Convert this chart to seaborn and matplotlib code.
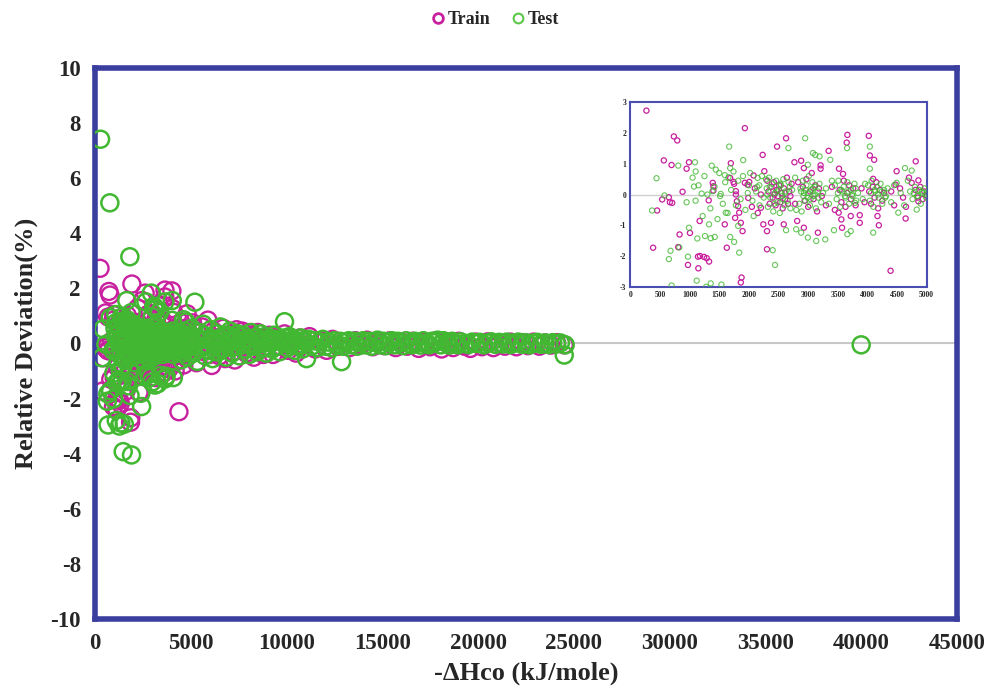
import numpy as np
import pandas as pd
import matplotlib
matplotlib.use("Agg")
import matplotlib.pyplot as plt
import seaborn as sns
from matplotlib.lines import Line2D

# ---------------- data ----------------
train_low_x = [271, 734, 791, 1932, 565, 695, 989, 949,
               537, 650, 667, 706, 881, 452, 384, 808,
               830, 1006, 1169, 972, 1141, 1175, 1243, 1288, 1328, 1147,
               1322, 1401, 1401, 1390, 1695, 1593, 1627, 1876, 1864,
               1751, 1780, 1797, 1819, 1768, 1836, 1864, 1893, 1977, 1989, 2079, 2232,
               2260, 2203, 2203, 2243, 2305, 2305, 2373, 2429, 2475, 2627, 2588,
               2768, 2881, 2927, 3209, 3209, 3345, 2814, 3164, 2927,
               3520, 3661, 3650, 3588, 3514, 3559, 3571, 3718, 3870, 3870,
               4022, 4040, 4113, 4096, 4192, 4169, 4390, 4492, 4475, 4644, 4814, 4746, 4859, 4859, 4997,
               1684, 1740, 1780, 1932, 2006,
               2310, 2330, 2350, 2380, 2400, 2420, 2450, 2470, 2490, 2510, 2530, 2550, 2570, 2590, 2610, 2640, 2660, 2680, 2700, 2720,
               2910, 2940, 2970, 3000, 3030, 3060, 3090, 3120, 3150, 3180, 3230,
               3530, 3560, 3600, 3630, 3660, 3690, 3720, 3760, 3800,
               4030, 4060, 4090, 4120, 4150, 4180, 4210, 4250, 4280,
               4810, 4850, 4890, 4930, 4960,
               2050, 2100, 2150, 2780, 2830, 3300, 3400, 3450, 3900, 3950, 4400, 4450, 4550, 4600, 4700, 4650]
train_low_y = [2.73, 1.89, 1.76, 2.16, 1.11, 0.96, 1.05, 0.84,
               -0.16, -0.09, -0.25, -0.27, 0.09, -0.52, -1.73, -1.71,
               -1.30, -1.25, -0.86, -2.29, -2.02, -2.00, -2.03, -2.07, -2.18, -2.40,
               -0.19, 0.13, 0.27, 0.38, 1.02, -0.97, -1.73, -2.70, -2.86,
               0.35, 0.00, -0.22, -0.38, -0.76, -0.59, -0.92, -1.19, 0.32, -0.11, 0.62, 1.29,
               0.76, 0.00, -0.43, -0.97, -1.19, -1.78, -0.92, 0.00, 1.56, 1.83, -0.97,
               1.05, 1.10, 0.86, 0.95, 0.84, 1.42, -0.86, -1.24, -1.08,
               0.84, 1.94, 1.69, 0.67, -0.59, -0.81, -1.08, -0.70, -0.67, -0.92,
               1.91, 1.27, 1.13, 0.51, -1.00, -0.70, -2.48, 0.76, 0.32, -0.78, 1.08, 0.38, 0.46, -0.22, -0.02,
               0.54, 0.41, 0.11, 0.38, 0.41,
               0.45, 0.10, -0.30, 0.25, -0.10, 0.40, -0.35, 0.15, -0.05, 0.30, -0.25, 0.05, -0.45, 0.20, -0.15, 0.55, -0.30, 0.10, -0.05, 0.35,
               0.25, -0.20, 0.50, -0.40, 0.10, 0.70, -0.15, 0.30, -0.55, 0.20, -0.05,
               0.15, -0.25, 0.45, -0.40, 0.05, 0.30, -0.15, 0.20, -0.35,
               0.10, -0.30, 0.25, -0.10, 0.40, -0.45, 0.15, -0.20, 0.05,
               0.15, -0.10, 0.25, -0.15, 0.10,
               -0.40, 0.20, -0.60, -0.30, 0.40, -0.35, 0.25, -0.50, 0.20, -0.25, 0.10, -0.35, 0.20, -0.10, 0.55, -0.40]

train_high_x = [5100, 5300, 5500, 5700, 5900, 6100, 6300, 6500, 6700, 6900, 7100, 7300, 7500, 7700, 7900,
                8100, 8300, 8500, 8700, 8900, 9100, 9300, 9500, 9700, 9900, 10100, 10300, 10500, 10700, 10900,
                11200, 11500, 11800, 12100, 12400, 12700, 13000, 13300, 13600, 13900, 14200, 14500, 14800,
                15100, 15400, 15700, 16000, 16300, 16600, 16900, 17200, 17500, 17800, 18100, 18400, 18700,
                19000, 19300, 19600, 19900, 20200, 20500, 20800, 21100, 21400, 21700, 22000, 22300, 22600,
                22900, 23200, 23500, 23800, 24100, 24500,
                5200, 5400, 5600, 5800, 6000, 6200, 6400, 6600, 6800, 7000, 7200, 7400, 7600, 7800, 8000,
                8200, 8400, 8600, 8800, 9000]
train_high_y = [0.75, -0.70, 0.40, -0.30, 0.85, -0.80, 0.20, -0.45, 0.55, -0.15, 0.35, -0.60, 0.10, 0.45, -0.35,
                0.25, -0.50, 0.40, -0.20, 0.05, 0.30, -0.40, 0.15, -0.10, 0.35, -0.25, 0.10, -0.35, 0.20, -0.05,
                0.25, -0.20, 0.10, -0.25, 0.15, -0.10, 0.05, -0.15, 0.10, -0.05, 0.12, -0.12, 0.05,
                -0.08, 0.10, -0.15, 0.05, -0.10, 0.08, -0.18, 0.05, -0.12, 0.10, -0.20, 0.02, -0.15,
                0.08, -0.10, -0.18, 0.05, -0.12, 0.06, -0.15, 0.02, -0.10, 0.05, -0.12, 0.03, -0.08,
                0.05, -0.10, 0.02, -0.06, 0.03, -0.05,
                0.10, -0.20, 0.60, 0.05, -0.40, 0.45, -0.10, 0.25, -0.55, 0.05, -0.30, 0.50, -0.15, 0.20, -0.05,
                0.30, -0.25, 0.15, -0.40, 0.20]

test_low_x = [441, 808, 1090, 1102, 1073, 949, 576, 367, 678, 650, 825, 989, 1328, 972, 1119, 1356, 1537,
              1130, 1260, 1356, 1424, 1203, 1384, 1373, 1441, 1514, 1525, 1667, 1684, 1655, 1593, 1904,
              1610, 1684, 1751, 1836, 1819, 2147, 2175, 2288, 2401, 2441, 2667, 2627, 2949, 2994, 3079,
              3119, 3192, 3373, 2797, 2881, 2994, 3136, 3288, 3435, 3655, 3661, 3718, 3791, 4040, 4040,
              4096, 4492, 4520, 4633, 4746, 4831,
              298, 783, 1827, 1480, 1915, 696, 1279,
              2300, 2320, 2340, 2360, 2390, 2410, 2440, 2460, 2480, 2500, 2520, 2540, 2560, 2580, 2600, 2620, 2650, 2670, 2700, 2730,
              2850, 2870, 2890, 2910, 2930, 2950, 2970, 2990, 3010, 3030, 3050, 3070, 3090, 3110, 3130, 3160, 3190, 3220, 3250,
              3450, 3480, 3510, 3540, 3570, 3600, 3630, 3660, 3690, 3720, 3750, 3780, 3810, 3840,
              4010, 4040, 4070, 4100, 4130, 4160, 4190, 4220, 4250, 4280, 4310, 4340,
              4720, 4760, 4800, 4840, 4870, 4900, 4930, 4960, 4990,
              2000, 2060, 2120, 2780, 2800, 3300, 3350, 3400, 3920, 3960, 4400, 4450, 4560, 4620, 4680,
              1050, 1100, 1150, 1220, 1250, 1300, 1350, 1420, 1470, 1500, 1560, 1600, 1640, 1700, 1740,
              1780, 1820, 1860, 1900, 1940, 1980, 2020, 2080, 2140, 2180, 2220, 2250,
              2310, 2350, 2430, 2470, 2530, 2570, 2610, 2690,
              2880, 2920, 2960, 3000, 3040, 3080, 3120, 3170,
              3500, 3560, 3620, 3680, 3740, 3800,
              4060, 4120, 4180, 4240, 4300,
              4780, 4850, 4920, 4980]
test_low_y = [0.53, 0.94, 1.05, 0.75, 0.26, -0.25, -0.03, -0.52, -1.83, -2.10, -1.72, -1.08, -0.97, -2.02, -2.80, -2.89, -2.93,
              -1.43, -1.35, -1.42, -1.38, 0.03, 0.11, 0.94, 0.81, -0.05, 0.02, 1.56, 0.86, 0.56, 0.63, 1.12,
              -0.59, -1.38, -1.54, -1.89, -1.02, 0.54, 0.30, 0.49, -1.81, -2.29, 1.51, -1.16, 1.83, 0.97, 1.35,
              1.29, 1.24, 1.13, -1.13, -1.24, -1.40, -1.51, -1.46, -1.16, 1.51, -1.29, -1.19, -0.27, 1.56, 0.84,
              -1.24, 0.38, -0.59, 0.86, 0.78, -0.49,
              7.42, 5.11, 3.15, -3.93, -4.05, -2.96, -3.00,
              0.20, -0.40, 0.55, -0.10, 0.35, -0.55, 0.05, 0.45, -0.25, 0.15, -0.60, 0.30, -0.05, 0.50, -0.35, 0.10, -0.20, 0.40, -0.45, 0.15,
              -0.30, 0.20, -0.55, 0.45, 0.05, -0.20, 0.30, -0.10, 0.60, -0.35, 0.15, 0.40, -0.05, 0.25, -0.45, 0.10, 0.35, -0.25, 0.05,
              0.30, -0.15, 0.45, -0.40, 0.10, 0.25, -0.10, 0.40, -0.30, 0.15, -0.05, 0.35, -0.20, 0.05,
              0.30, -0.20, 0.45, -0.40, 0.10, 0.25, -0.10, 0.35, -0.30, 0.15, -0.05, 0.20,
              0.10, -0.15, 0.25, -0.05, 0.15, -0.30, 0.05, 0.20, -0.10,
              0.30, -0.20, 0.10, 0.55, -0.50, 0.20, -0.30, 0.45, -0.15, 0.35, -0.25, 0.30, 0.05, -0.35, 0.45,
              0.55, -0.20, 0.30, -0.70, 0.60, 0.00, -0.45, 0.25, -0.80, 0.70, -0.30, 0.40, -0.60, 0.15, 0.75,
              -0.35, 0.45, -0.15, 0.60, -0.50, 0.05, 0.70, -0.70, 0.25, -0.35, 0.60, -0.10,
              0.00, 0.25, -0.30, 0.10, 0.35, -0.15, 0.05, 0.25,
              0.10, -0.05, 0.15, 0.05, -0.15, 0.20, 0.00, -0.10,
              0.05, 0.15, -0.05, 0.10, 0.00, 0.20,
              0.05, 0.15, 0.00, 0.10, -0.10,
              0.05, -0.05, 0.10, 0.00]

test_high_x = [5050, 5150, 5220, 5250, 5350, 5450, 5550, 5650, 5750, 5850, 5950, 6050, 6150, 6250, 6350,
               6450, 6550, 6650, 6750, 6850, 6950, 7050, 7150, 7250, 7350, 7450, 7550, 7650, 7750, 7850,
               7950, 8050, 8150, 8250, 8350, 8450, 8550, 8650, 8750, 8850, 8950, 9050, 9150, 9250, 9350,
               9450, 9550, 9650, 9750, 9900, 9950, 10050, 10150, 10250, 10350, 10450, 10550, 10650, 10750,
               10850, 11050, 11000, 11150, 11300, 11450, 11600, 11750, 11900, 12050, 12200, 12350, 12500,
               12650, 12877, 12800, 12950, 13100, 13250, 13400, 13550, 13700, 13850, 14000, 14150, 14300,
               14450, 14600, 14750, 14900, 15050, 15200, 15350, 15500, 15650, 15800, 15950, 16100, 16250,
               16400, 16550, 16700, 16850, 17000, 17150, 17300, 17450, 17600, 17750, 17900, 18050, 18200,
               18350, 18500, 18650, 18800, 18950, 19100, 19300, 19500, 19700, 19900, 20100, 20300, 20500,
               20700, 20900, 21100, 21300, 21500, 21700, 21900, 22100, 22300, 22500, 22700, 22900, 23100,
               23300, 23500, 23700, 23900, 24100, 24300, 24550, 24500, 40000,
               5100, 5300, 5500, 5700, 5900, 6100, 6300, 6500, 6700, 6900, 7100, 7300, 7500, 7700, 7900,
               8100, 8300, 8500, 8700, 8900, 9100, 9300, 9500, 9700, 10000, 10300, 10600, 10900]
test_high_y = [0.55, -0.35, 1.50, 0.20, -0.65, 0.40, -0.10, 0.70, -0.45, 0.15, -0.25, 0.50, -0.55, 0.05, 0.35,
               -0.30, 0.60, -0.20, 0.25, -0.50, 0.10, 0.45, -0.35, 0.20, -0.10, 0.35, -0.45, 0.05, 0.30, -0.20,
               0.15, -0.40, 0.40, -0.05, 0.20, -0.30, 0.10, 0.35, -0.15, 0.25, -0.35, 0.05, 0.20, -0.20, 0.30,
               -0.10, 0.15, -0.30, 0.05, 0.79, 0.20, -0.15, 0.25, -0.05, 0.15, -0.25, 0.10, -0.10, 0.20,
               -0.20, -0.55, 0.05, 0.15, -0.10, 0.10, -0.15, 0.05, 0.15, -0.10, 0.05, -0.15, 0.10,
               -0.05, -0.66, 0.08, -0.10, 0.05, 0.10, -0.05, 0.08, -0.10, 0.05, 0.10, -0.05, 0.08,
               -0.10, 0.05, 0.12, -0.05, 0.08, -0.08, 0.05, 0.10, -0.05, 0.08, 0.02, -0.08, 0.10,
               0.00, -0.05, 0.08, 0.02, -0.06, 0.10, 0.00, -0.05, 0.08, 0.03, 0.12, -0.05, 0.10,
               0.02, -0.06, 0.08, 0.00, -0.05, 0.06, 0.00, -0.04, 0.05, 0.00, 0.04, -0.05, 0.02,
               0.06, -0.03, 0.04, -0.02, 0.05, -0.04, 0.02, 0.05, -0.03, 0.03, -0.05, 0.02, 0.04,
               -0.03, 0.02, -0.04, 0.03, -0.02, 0.02, -0.05, -0.42, -0.05,
               0.05, 0.15, -0.20, 0.30, -0.05, 0.10, -0.30, 0.20, 0.00, 0.30, -0.15, 0.10, 0.25, -0.05, 0.15,
               0.05, -0.10, 0.20, 0.00, -0.15, 0.10, 0.05, -0.10, 0.15, 0.00, 0.05, -0.05, 0.10]

x_ticks = [0, 5000, 10000, 15000, 20000, 25000, 30000, 35000, 40000, 45000]
y_ticks = [-10, -8, -6, -4, -2, 0, 2, 4, 6, 8, 10]
inset_x_ticks = [0, 500, 1000, 1500, 2000, 2500, 3000, 3500, 4000, 4500, 5000]
inset_y_ticks = [-3, -2, -1, 0, 1, 2, 3]

# ---------------- build tables ----------------
train = pd.DataFrame({"x": train_low_x + train_high_x, "y": train_low_y + train_high_y})
test = pd.DataFrame({"x": test_low_x + test_high_x, "y": test_low_y + test_high_y})

MAG = "#C8209E"
GRN = "#42B832"
FRAME = "#3A3E9E"
SERIF = ["Liberation Serif", "DejaVu Serif"]

sns.set_theme(style="white")
plt.rcParams["font.family"] = SERIF

fig = plt.figure(figsize=(9.88, 6.96), dpi=100)
ax = fig.add_axes([0.096, 0.111, 0.8726, 0.791])

ax.axhline(0, color="#C8C8C8", lw=1.5, zorder=0)
sns.scatterplot(data=train, x="x", y="y", ax=ax, s=150, facecolor="none",
                edgecolor=MAG, linewidth=1.7, zorder=2)
sns.scatterplot(data=test, x="x", y="y", ax=ax, s=150, facecolor="none",
                edgecolor=GRN, linewidth=1.8, zorder=3)

ax.set_xlim(0, 45000)
ax.set_ylim(-10, 10)
ax.set_xticks(x_ticks)
ax.set_yticks(y_ticks)
ax.set_xticklabels([str(t) for t in x_ticks], fontsize=16.5, fontweight="bold")
ax.set_yticklabels([str(t) for t in y_ticks], fontsize=16.5, fontweight="bold")
ax.tick_params(length=0, pad=10)
ax.set_xlabel("-ΔHco (kJ/mole)", fontsize=19, fontweight="bold", labelpad=6)
ax.set_ylabel("Relative Deviation(%)", fontsize=19, fontweight="bold", labelpad=9)
for sp in ax.spines.values():
    sp.set_color(FRAME)
    sp.set_linewidth(4)

# ---------------- inset ----------------
ins = fig.add_axes([0.638, 0.588, 0.300, 0.265])
ins.axhline(0, color="#D0D0D0", lw=1.0, zorder=0)
sns.scatterplot(data=train, x="x", y="y", ax=ins, s=14, facecolor="none",
                edgecolor=MAG, linewidth=0.9, zorder=2)
sns.scatterplot(data=test, x="x", y="y", ax=ins, s=14, facecolor="none",
                edgecolor=GRN, linewidth=0.8, alpha=0.8, zorder=3)
ins.set_xlim(0, 5000)
ins.set_ylim(-3, 3)
ins.set_xticks(inset_x_ticks)
ins.set_yticks(inset_y_ticks)
ins.set_xticklabels([str(t) for t in inset_x_ticks], fontsize=5.5, fontweight="bold")
ins.set_yticklabels([str(t) for t in inset_y_ticks], fontsize=5.5, fontweight="bold")
ins.tick_params(length=0, pad=3)
ins.set_xlabel("")
ins.set_ylabel("")
for sp in ins.spines.values():
    sp.set_color("#4A4EB0")
    sp.set_linewidth(1.5)

# ---------------- legend ----------------
handles = [Line2D([], [], ls="none", marker="o", markersize=7, markerfacecolor="none",
                  markeredgecolor=MAG, markeredgewidth=2, label="Train"),
           Line2D([], [], ls="none", marker="o", markersize=7, markerfacecolor="none",
                  markeredgecolor="#5CC84A", markeredgewidth=1.5, label="Test")]
fig.legend(handles=handles, loc="center", bbox_to_anchor=(0.5, 0.972), ncol=2, frameon=False,
           prop={"family": SERIF, "weight": "bold", "size": 13},
           handletextpad=0.05, columnspacing=1.0, handlelength=1.0)

fig.savefig("out.png", dpi=100)
